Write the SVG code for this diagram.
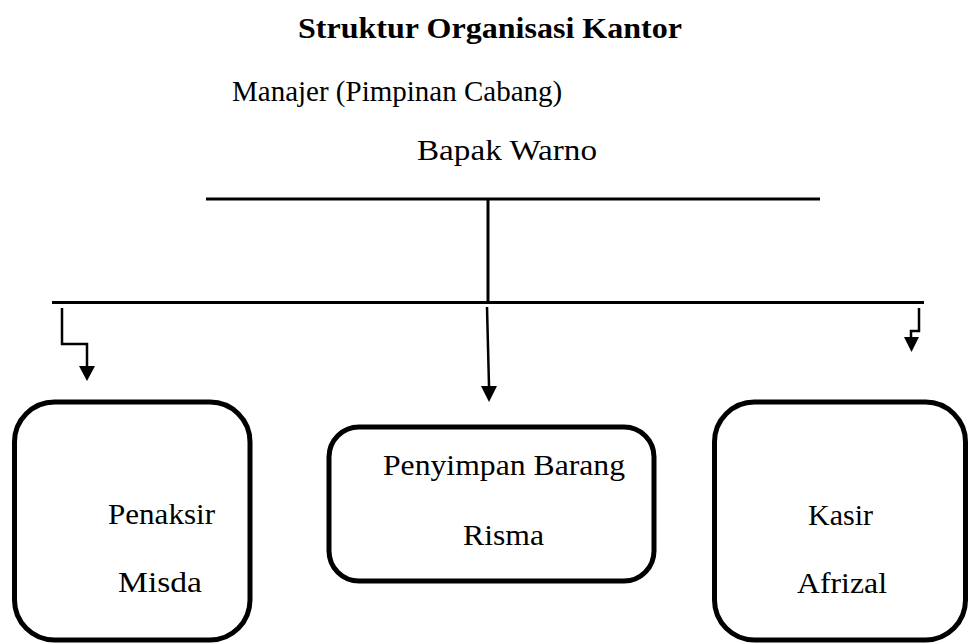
<svg xmlns="http://www.w3.org/2000/svg" width="969" height="644" viewBox="0 0 969 644">
<style>
.t{font-family:'Liberation Serif','DejaVu Serif',serif;fill:#000;font-size:29px}
.title{font-weight:bold;font-size:28.5px}
.box{fill:#fff;stroke:#000;stroke-width:5}
.ln{stroke:#000;stroke-width:3;fill:none}
.cn{stroke:#000;stroke-width:2.5;fill:none}
.hd{fill:#000}
</style>
<g id="header" font-family="Liberation Serif, serif">
<text class="t title" x="298" y="38" textLength="384" lengthAdjust="spacingAndGlyphs">Struktur Organisasi Kantor</text>
<text class="t" x="232" y="101">Manajer (Pimpinan Cabang)</text>
<text class="t" x="417" y="160" textLength="180" lengthAdjust="spacingAndGlyphs">Bapak Warno</text>
</g>
<g id="connectors">
<line class="ln" x1="206" y1="199" x2="820" y2="199"/>
<line class="ln" x1="488" y1="199" x2="488" y2="302.5"/>
<line class="ln" x1="52" y1="302.5" x2="924" y2="302.5"/>
<polyline class="cn" points="62,308 62,344 87,344 87,366"/>
<path class="hd" d="M79,366 L95,366 L87,381 Z"/>
<line class="cn" x1="487" y1="307" x2="489" y2="386"/>
<path class="hd" d="M481,386 L497,386 L489,402 Z"/>
<polyline class="cn" points="919,308 919,331 911,331 911,337"/>
<path class="hd" d="M904,337 L919,337 L911.5,352 Z"/>
</g>
<g id="penaksir" font-family="Liberation Serif, serif">
<rect class="box" x="14.5" y="402" width="235.5" height="238" rx="40"/>
<text class="t" x="108" y="524" textLength="107" lengthAdjust="spacingAndGlyphs">Penaksir</text>
<text class="t" x="118" y="592" textLength="84" lengthAdjust="spacingAndGlyphs">Misda</text>
</g>
<g id="penyimpan" font-family="Liberation Serif, serif">
<rect class="box" x="329" y="427" width="325" height="154" rx="30"/>
<text class="t" x="383" y="475" textLength="242" lengthAdjust="spacingAndGlyphs">Penyimpan Barang</text>
<text class="t" x="463" y="545" textLength="81" lengthAdjust="spacingAndGlyphs">Risma</text>
</g>
<g id="kasir" font-family="Liberation Serif, serif">
<rect class="box" x="714.5" y="402" width="251" height="238" rx="40"/>
<text class="t" x="808" y="525" textLength="65" lengthAdjust="spacingAndGlyphs">Kasir</text>
<text class="t" x="797" y="593" textLength="90" lengthAdjust="spacingAndGlyphs">Afrizal</text>
</g>
</svg>
